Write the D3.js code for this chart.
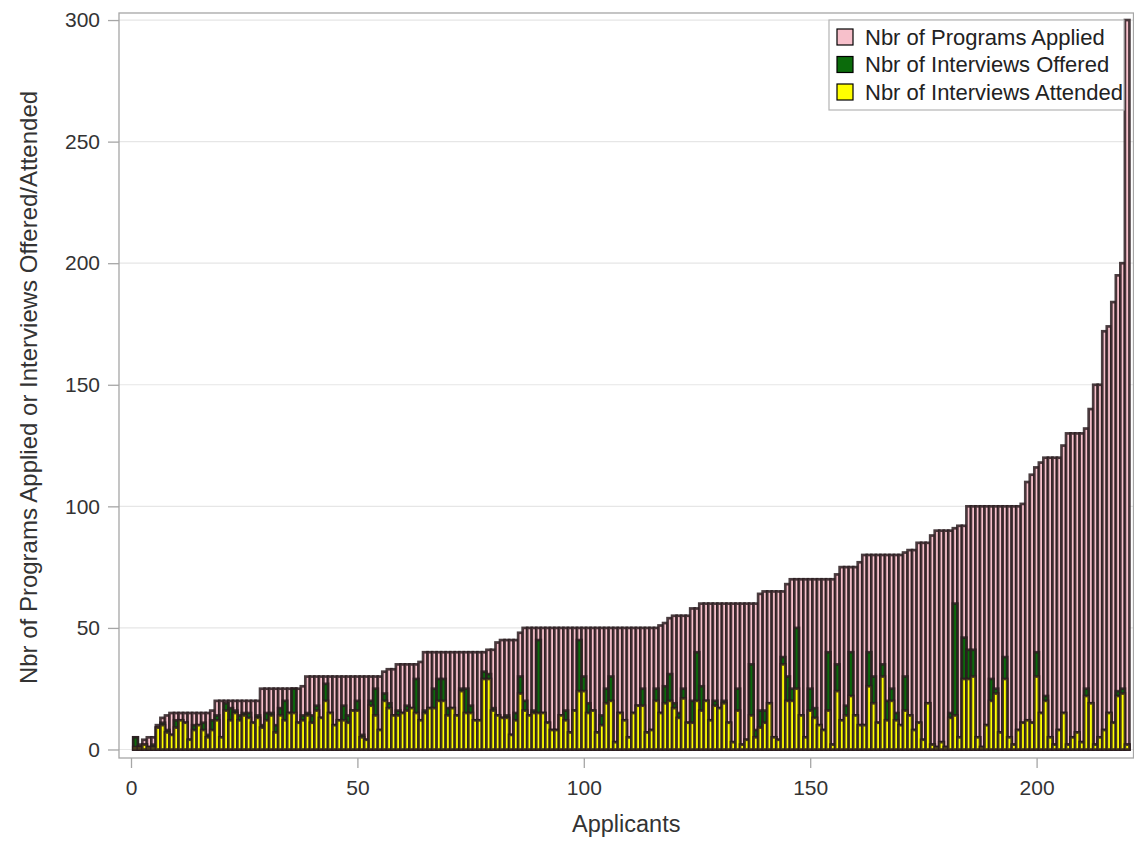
<!DOCTYPE html>
<html>
<head>
<meta charset="utf-8">
<script src="https://cdn.jsdelivr.net/npm/d3@7"></script>
<style>
  body { margin: 0; background: #fff; }
  #chart { width: 1134px; height: 842px; }
  text { font-family: "Liberation Sans", Arial, sans-serif; }
</style>
</head>
<body>
<div id="chart"></div>
<script>
// applicants sorted by number of programs applied
const applied = [
  5, 2, 4, 5, 5, 10, 13, 14, 15, 15,
  15, 15, 15, 15, 15, 15, 15, 16, 20, 20,
  20, 20, 20, 20, 20, 20, 20, 20, 25, 25,
  25, 25, 25, 25, 25, 25, 25, 26, 30, 30,
  30, 30, 30, 30, 30, 30, 30, 30, 30, 30,
  30, 30, 30, 30, 30, 32, 33, 33, 35, 35,
  35, 35, 35, 36, 40, 40, 40, 40, 40, 40,
  40, 40, 40, 40, 40, 40, 40, 40, 41, 41,
  44, 45, 45, 45, 45, 48, 50, 50, 50, 50,
  50, 50, 50, 50, 50, 50, 50, 50, 50, 50,
  50, 50, 50, 50, 50, 50, 50, 50, 50, 50,
  50, 50, 50, 50, 50, 50, 51, 52, 54, 55,
  55, 55, 55, 58, 58, 60, 60, 60, 60, 60,
  60, 60, 60, 60, 60, 60, 60, 60, 64, 65,
  65, 65, 65, 65, 68, 70, 70, 70, 70, 70,
  70, 70, 70, 70, 70, 72, 75, 75, 75, 75,
  77, 80, 80, 80, 80, 80, 80, 80, 80, 80,
  81, 82, 82, 85, 85, 85, 88, 90, 90, 90,
  90, 91, 92, 92, 100, 100, 100, 100, 100, 100,
  100, 100, 100, 100, 100, 100, 101, 110, 113, 116,
  118, 120, 120, 120, 120, 125, 130, 130, 130, 130,
  132, 140, 150, 150, 172, 174, 184, 195, 200, 300
];
const offered = [
  5, 1, 2, 1, 2, 9, 11, 8, 6, 12,
  12, 11, 4, 10, 10, 11, 6, 12, 14, 5,
  19, 17, 16, 14, 15, 15, 11, 14, 10, 15,
  15, 10, 17, 20, 15, 25, 11, 14, 15, 14,
  18, 13, 27, 15, 10, 12, 18, 14, 16, 20,
  6, 4, 20, 25, 8, 23, 19, 14, 16, 15,
  18, 17, 29, 12, 16, 17, 25, 29, 29, 17,
  17, 14, 25, 25, 18, 12, 12, 32, 31, 17,
  14, 13, 14, 6, 15, 30, 20, 14, 16, 45,
  15, 11, 8, 8, 14, 16, 7, 16, 45, 30,
  19, 16, 7, 14, 25, 30, 3, 15, 12, 5,
  15, 18, 25, 7, 8, 25, 15, 26, 31, 19,
  15, 25, 11, 20, 40, 26, 20, 12, 20, 17,
  20, 11, 3, 25, 2, 4, 35, 8, 16, 16,
  19, 5, 4, 38, 30, 25, 50, 14, 5, 25,
  17, 10, 8, 40, 2, 35, 12, 18, 40, 14,
  10, 10, 40, 30, 11, 35, 20, 25, 15, 10,
  30, 14, 8, 11, 4, 19, 2, 1, 3, 1,
  15, 60, 5, 46, 41, 41, 5, 1, 10, 29,
  25, 7, 38, 5, 2, 8, 11, 12, 11, 40,
  15, 22, 5, 2, 8, 15, 2, 5, 7, 3,
  25, 19, 2, 5, 8, 15, 11, 24, 25, 2
];
const attended = [
  1, 1, 2, 1, 1, 9, 10, 7, 6, 9,
  12, 11, 4, 8, 10, 8, 5, 8, 12, 5,
  16, 12, 15, 12, 14, 13, 11, 13, 9, 12,
  14, 7, 14, 12, 15, 15, 11, 12, 14, 11,
  16, 13, 20, 15, 10, 12, 12, 11, 16, 16,
  5, 4, 18, 14, 8, 20, 17, 14, 14, 15,
  16, 17, 15, 12, 15, 17, 17, 20, 20, 14,
  17, 14, 24, 15, 15, 12, 12, 29, 29, 16,
  14, 13, 13, 6, 12, 23, 16, 14, 15, 15,
  15, 11, 8, 8, 14, 12, 7, 16, 24, 24,
  15, 16, 7, 10, 19, 20, 3, 15, 12, 5,
  15, 18, 18, 7, 8, 20, 15, 19, 20, 17,
  13, 21, 11, 11, 20, 16, 20, 12, 18, 17,
  19, 11, 3, 16, 2, 4, 14, 5, 9, 11,
  19, 5, 4, 35, 20, 20, 25, 14, 5, 16,
  13, 10, 8, 16, 2, 24, 12, 14, 22, 14,
  10, 10, 26, 19, 11, 30, 12, 20, 12, 10,
  16, 14, 8, 11, 4, 19, 2, 1, 3, 1,
  13, 14, 5, 29, 29, 30, 5, 1, 10, 20,
  23, 7, 29, 5, 2, 8, 11, 12, 11, 30,
  15, 20, 5, 2, 8, 15, 2, 5, 7, 3,
  22, 19, 2, 5, 8, 15, 11, 22, 23, 2
];
const seriesNames = ["Nbr of Programs Applied", "Nbr of Interviews Offered", "Nbr of Interviews Attended"];
const colors = ["#f7c0cb", "#0b6b0b", "#ffff00"];
const yTicks = [0, 50, 100, 150, 200, 250, 300];
const xTicks = [0, 50, 100, 150, 200];

const W = 1134, H = 842;
const plot = { left: 119, right: 1133.5, top: 13, bottom: 758 };

const svg = d3.select("#chart")
  .append("svg")
  .attr("width", W)
  .attr("height", H);

const x = d3.scaleLinear().domain([-2.65, 221.4]).range([plot.left, plot.right]);
const y = d3.scaleLinear().domain([-3.5, 302.9]).range([plot.bottom, plot.top]);

// gridlines
svg.append("g")
  .selectAll("line")
  .data(yTicks)
  .enter()
  .append("line")
  .attr("x1", plot.left)
  .attr("x2", plot.right)
  .attr("y1", (d) => y(d))
  .attr("y2", (d) => y(d))
  .attr("stroke", "#e6e6e6")
  .attr("stroke-width", 1.2);

const ids = d3.range(1, applied.length + 1);
const bw = x(1) - x(0);

// bars, all from zero, drawn back to front
[applied, offered, attended].forEach((vals, k) => {
  svg.append("g")
    .selectAll("rect")
    .data(ids)
    .enter()
    .append("rect")
    .attr("x", (d) => x(d) - bw / 2)
    .attr("width", bw)
    .attr("y", (d) => y(vals[d - 1]))
    .attr("height", (d) => y(0) - y(vals[d - 1]))
    .attr("fill", colors[k])
    .attr("stroke", "#2a1c20")
    .attr("stroke-opacity", 0.85)
    .attr("stroke-width", 2.7);
});

// frame
svg.append("rect")
  .attr("x", plot.left)
  .attr("y", plot.top)
  .attr("width", plot.right - plot.left)
  .attr("height", plot.bottom - plot.top)
  .attr("fill", "none")
  .attr("stroke", "#a6a6a6")
  .attr("stroke-width", 1.3);

// axes
const yAxis = svg.append("g")
  .attr("transform", `translate(${plot.left},0)`)
  .call(d3.axisLeft(y).tickValues(yTicks).tickSize(11).tickPadding(8));
const xAxis = svg.append("g")
  .attr("transform", `translate(0,${plot.bottom})`)
  .call(d3.axisBottom(x).tickValues(xTicks).tickSize(10).tickPadding(12));

[yAxis, xAxis].forEach((ax) => {
  ax.select(".domain").remove();
  ax.selectAll(".tick line").attr("stroke", "#a6a6a6").attr("stroke-width", 1.3);
  ax.selectAll(".tick text")
    .attr("fill", "#333")
    .style("font-size", "21px")
    .style("font-family", "'Liberation Sans', Arial, sans-serif");
});

// axis titles
svg.append("text")
  .text("Applicants")
  .attr("x", (plot.left + plot.right) / 2)
  .attr("y", 832)
  .attr("text-anchor", "middle")
  .attr("fill", "#333")
  .style("font-size", "23.5px");

svg.append("text")
  .text("Nbr of Programs Applied or Interviews Offered/Attended")
  .attr("transform", `translate(37, ${(plot.top + plot.bottom) / 2 + 2}) rotate(-90)`)
  .attr("text-anchor", "middle")
  .attr("fill", "#333")
  .style("font-size", "24px");

// legend
const lg = svg.append("g").attr("transform", "translate(829,20)");
lg.append("rect")
  .attr("width", 295)
  .attr("height", 90)
  .attr("fill", "#fff")
  .attr("stroke", "#b4b4b4")
  .attr("stroke-width", 1.2);

seriesNames.forEach((name, i) => {
  const row = lg.append("g").attr("transform", `translate(8, ${17 + i * 27.5})`);
  row.append("rect")
    .attr("x", 0)
    .attr("y", -8)
    .attr("width", 16)
    .attr("height", 16)
    .attr("fill", colors[i])
    .attr("stroke", "#000")
    .attr("stroke-width", 1.2);
  row.append("text")
    .text(name)
    .attr("x", 28)
    .attr("dy", "0.36em")
    .attr("fill", "#222")
    .style("font-size", "22px");
});
</script>
</body>
</html>
